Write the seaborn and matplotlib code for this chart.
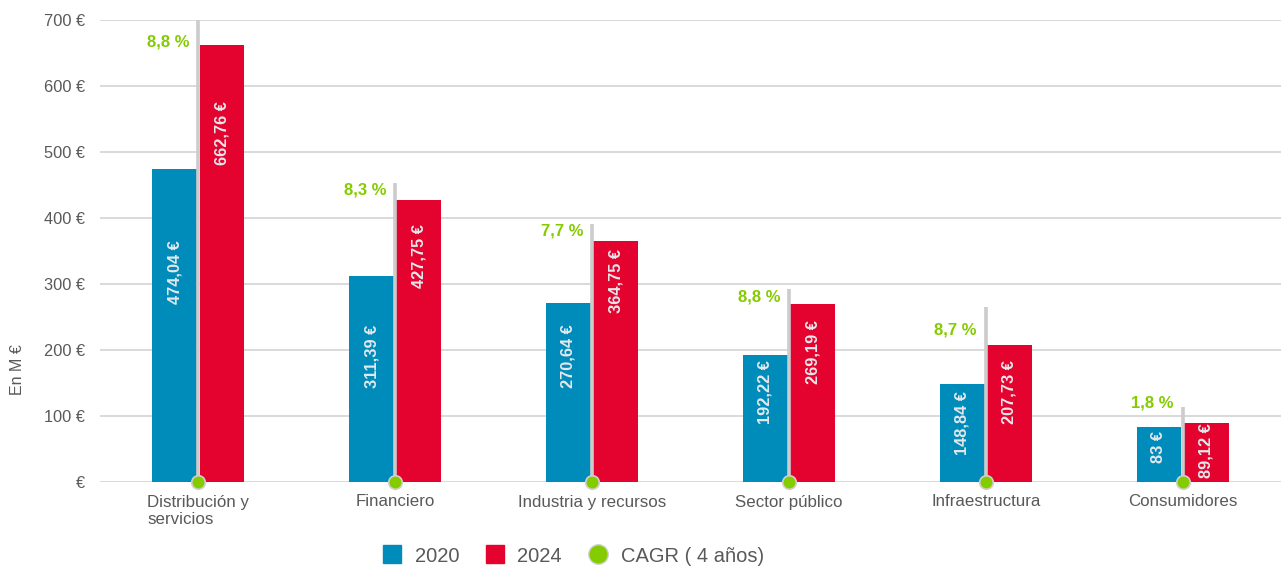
import matplotlib
matplotlib.use("Agg")
import matplotlib.pyplot as plt
from matplotlib.lines import Line2D
import pandas as pd
import seaborn as sns

categories = ["Distribución y\nservicios", "Financiero", "Industria y recursos",
              "Sector público", "Infraestructura", "Consumidores"]
v2020 = [474.04, 311.39, 270.64, 192.22, 148.84, 83]
v2024 = [662.76, 427.75, 364.75, 269.19, 207.73, 89.12]
cagr = [8.8, 8.3, 7.7, 8.8, 8.7, 1.8]
years = ["2020", "2024"]

# layout (data units)
stem_top = [700, 453, 391, 292, 265, 114]
cagr_text_y = [667, 442, 380, 280, 230, 120]
label_mid_2020 = [318, 191, 191, 136, 89, 53]
label_mid_2024 = [529, 342, 305, 197, 136, 47]

BLUE = "#008cba"
RED = "#e4032e"
GREEN = "#84cc00"
GREY = "#595959"

df = pd.DataFrame({
    "cat": categories * 2,
    "year": [years[0]] * 6 + [years[1]] * 6,
    "value": v2020 + v2024,
})

sns.set_style("white")
plt.rcParams["font.family"] = ["Liberation Sans", "DejaVu Sans"]

fig = plt.figure(figsize=(12.86, 5.70), dpi=100)
ax = fig.add_axes([100 / 1286, 88 / 570, 1181 / 1286, 462 / 570])

sns.barplot(data=df, x="cat", y="value", hue="year", palette=[BLUE, RED],
            saturation=1, width=0.48, gap=0.05, linewidth=0, ax=ax,
            legend=False, zorder=3)

def fmt(v):
    s = f"{v:.2f}".rstrip("0").rstrip(".")
    return s.replace(".", ",") + " €"

off = 0.12
for i in range(len(categories)):
    ax.text(i - off, label_mid_2020[i], fmt(v2020[i]), rotation=90, ha="center",
            va="center", color="#e3e8ec", fontsize=11.8, fontweight="bold", zorder=5)
    ax.text(i + off, label_mid_2024[i], fmt(v2024[i]), rotation=90, ha="center",
            va="center", color="#e3e8ec", fontsize=11.8, fontweight="bold", zorder=5)
    ax.plot([i, i], [0, stem_top[i]], color="#cccccc", lw=2.6, zorder=4,
            solid_capstyle="butt")
    ax.text(i - 0.045, cagr_text_y[i], f"{cagr[i]:.1f} %".replace(".", ","),
            ha="right", va="center", color=GREEN, fontsize=12, fontweight="bold",
            zorder=5)

ax.scatter(range(len(categories)), [0] * len(categories), s=95, color=GREEN,
           edgecolor="#cfcfcf", linewidth=1.2, zorder=6, clip_on=False)

ax.set_xlim(-0.5, 5.5)
ax.set_ylim(0, 700)
ax.set_yticks(range(0, 701, 100))
ax.set_yticklabels(["€"] + [f"{t} €" for t in range(100, 701, 100)])
ax.yaxis.grid(True, color="#d9d9d9", lw=1.4, zorder=0)
ax.set_axisbelow(True)
ax.tick_params(axis="y", length=0, pad=11, labelsize=11.8, labelcolor=GREY)
ax.tick_params(axis="x", length=0, pad=9, labelsize=12.2, labelcolor=GREY)
for lbl in ax.get_xticklabels():
    lbl.set_multialignment("left")
    lbl.set_verticalalignment("top")
ax.set_xlabel("")
ax.set_ylabel("")
sns.despine(ax=ax, left=True, bottom=True)
fig.text(17 / 1286, 1 - 370 / 570, "En M €", rotation=90, ha="center",
         va="center", fontsize=11.5, color=GREY)

handles = [
    Line2D([], [], marker="s", ls="", color=BLUE, markersize=13),
    Line2D([], [], marker="s", ls="", color=RED, markersize=13),
    Line2D([], [], marker="o", ls="", color=GREEN, markeredgecolor="#cfcfcf",
           markersize=14),
]
fig.legend(handles, ["2020", "2024", "CAGR ( 4 años)"], loc="center",
           bbox_to_anchor=(573 / 1286, 1 - 556 / 570), ncol=3, frameon=False,
           fontsize=14.5, handlelength=1.0, handletextpad=0.6, columnspacing=1.3,
           labelcolor=GREY)

fig.savefig("out.png", dpi=100)
